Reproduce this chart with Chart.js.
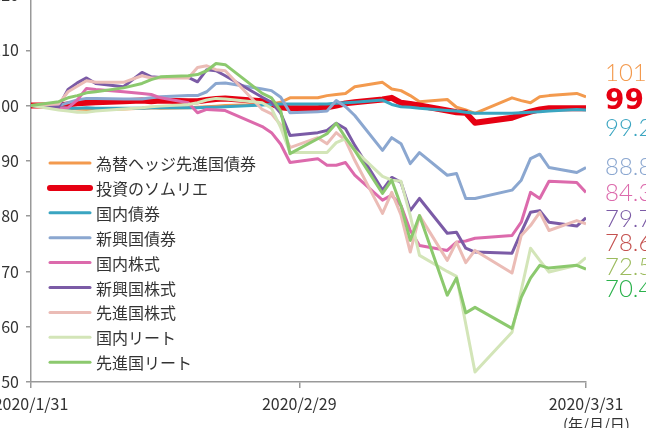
<!DOCTYPE html>
<html lang="ja">
<head>
<meta charset="utf-8">
<script src="https://cdn.jsdelivr.net/npm/chart.js@4"></script>
<style>
  html, body { margin: 0; padding: 0; background: #fff; overflow: hidden; }
  body { width: 646px; height: 428px; position: relative; }
  #wrap { position: absolute; left: -29px; top: -25px; }
</style>
</head>
<body>
<div id="wrap"><canvas id="navChart" width="695" height="467"></canvas></div>
<script>
// 日付 (2020/1/31 からの経過日数、営業日のみ)
const days = [0, 3, 4, 5, 6, 7, 10, 12, 13, 14, 17, 18, 19, 20, 21, 25, 26, 27, 28,
    31, 32, 33, 34, 35, 38, 39, 40, 41, 42, 45, 46, 47, 48, 52, 53, 54, 55, 56, 59, 60];

// x軸の目盛り
const tickDays = [0, 29, 60];
const tickLabels = ['2020/1/31', '2020/2/29', '2020/3/31'];

// 系列名
const seriesNames = ['為替ヘッジ先進国債券', '投資のソムリエ', '国内債券', '新興国債券',
    '国内株式', '新興国株式', '先進国株式', '国内リート', '先進国リート'];

// 基準価額 (1/31 = 100)
const hedgedBond = [100, 99.7, 99.5, 99.4, 99.3, 99.3, 99.4, 99.5, 99.6, 99.5, 99.6, 99.7, 99.8, 99.9, 100.0,
    100.2, 100.3, 100.6, 101.4, 101.4, 101.8, 102.0, 102.2, 103.4, 104.2, 103.0, 102.7, 101.8, 100.7,
    101.1, 99.7, 99.2, 98.6, 101.4, 100.9, 100.5, 101.6, 101.8, 102.2, 101.6];
const sommelier = [100, 100.0, 100.2, 100.4, 100.5, 100.6, 100.8, 100.9, 100.8, 100.9, 100.8, 100.8, 101.0, 101.2, 101.3,
    100.8, 100.3, 99.7, 99.5, 99.5, 99.7, 100.0, 100.4, 100.6, 101.1, 101.4, 100.5, 100.3, 100.0,
    99.1, 98.8, 98.7, 96.9, 97.8, 98.4, 98.9, 99.3, 99.5, 99.5, 99.5];
const domesticBond = [100, 99.6, 99.5, 99.5, 99.6, 99.5, 99.5, 99.5, 99.6, 99.6, 99.6, 99.6, 99.7, 99.7, 99.8,
    100.1, 100.2, 100.3, 100.3, 100.3, 100.3, 100.4, 100.5, 100.6, 101.0, 100.2, 99.8, 99.7, 99.5,
    99.1, 99.0, 98.8, 98.6, 98.6, 98.7, 98.8, 98.9, 99.0, 99.3, 99.2];
const emergingBond = [100, 100.0, 100.5, 101.0, 101.3, 101.3, 101.2, 101.2, 101.4, 101.6, 101.8, 101.8, 102.5, 104.0, 104.1,
    103.0, 102.7, 101.5, 98.7, 98.9, 99.0, 100.9, 99.8, 98.2, 91.9, 94.2, 93.1, 89.5, 91.5,
    87.4, 87.7, 83.2, 83.2, 84.7, 86.5, 90.4, 91.2, 88.8, 87.9, 88.8];
const domesticStock = [100, 99.5, 99.6, 101.0, 103.1, 102.9, 102.5, 102.2, 102.0, 101.4, 100.5, 98.7, 99.3, 99.2, 99.1,
    96.2, 95.1, 93.0, 89.7, 90.4, 89.2, 89.2, 89.7, 87.4, 82.9, 83.8, 81.9, 77.4, 74.7,
    73.8, 75.3, 75.5, 76.0, 76.5, 78.9, 84.3, 83.2, 86.3, 86.1, 84.3];
const emergingStock = [100, 99.8, 102.9, 104.1, 105.0, 104.0, 103.4, 106.0, 105.2, 105.1, 105.1, 104.3, 106.5, 106.3, 105.4,
    101.5, 100.6, 98.6, 94.6, 95.1, 95.5, 96.8, 95.8, 92.8, 84.7, 87.0, 86.1, 81.0, 83.2,
    76.9, 77.1, 74.2, 73.5, 73.3, 77.1, 80.7, 81.0, 78.9, 78.2, 79.7];
const developedStock = [100, 100.3, 102.5, 103.5, 104.5, 104.2, 104.2, 105.4, 105.0, 105.0, 105.0, 106.9, 107.2, 106.5, 106.3,
    99.3, 98.5, 96.5, 92.4, 94.2, 93.1, 95.1, 93.7, 90.1, 80.5, 84.3, 80.2, 73.5, 80.1,
    72.0, 75.3, 71.6, 73.8, 69.7, 76.5, 78.3, 80.7, 77.4, 79.2, 78.6];
const domesticReit = [100, 99.2, 99.0, 98.8, 98.8, 99.0, 99.4, 99.6, 99.8, 99.9, 100.2, 100.5, 101.0, 101.3, 101.2,
    100.5, 99.5, 96.0, 91.5, 91.5, 91.5, 93.3, 94.0, 91.9, 87.2, 86.5, 86.3, 80.1, 72.9,
    70.0, 69.1, 60.5, 51.8, 59.0, 66.6, 74.2, 72.0, 69.9, 71.1, 72.5];
const developedReit = [100, 100.7, 101.4, 101.8, 102.3, 102.5, 103.2, 104.0, 104.7, 105.2, 105.4, 105.6, 106.3, 107.6, 107.4,
    102.2, 101.4, 99.0, 91.3, 94.0, 94.9, 96.8, 94.2, 91.9, 84.1, 86.5, 81.9, 75.6, 80.1,
    65.7, 68.8, 62.5, 63.5, 59.7, 65.3, 68.8, 71.1, 70.6, 71.1, 70.4];

// 右端の数値ラベル
const endLabels = ['101.6', '99.5', '99.2', '88.8', '84.3', '79.7', '78.6', '72.5', '70.4'];
const endLabelColors = ['#f39a4e', '#e60012', '#3aa5c1', '#8ba7d0', '#dc6aac', '#7b5ba6', '#c4514f', '#9cbb5e', '#2bb24c'];

const allSeries = [hedgedBond, sommelier, domesticBond, emergingBond, domesticStock,
    emergingStock, developedStock, domesticReit, developedReit];
const lineColors = ['#f39a4e', '#e60012', '#3aa5c1', '#8ba7d0', '#dc6aac', '#7b5ba6', '#ebbcb6', '#d3e5b8', '#8cc96e'];

// キャンバスはページより左上にずらして置いている
const OX = 29;
const OY = 25;
const fontJP = '"Noto Sans CJK JP", "Noto Sans", sans-serif';

// 凡例・右端ラベルを描くプラグイン
const overlayPlugin = {
    id: 'overlay',
    afterDatasetsDraw(chart) {
        const ctx = chart.ctx;
        ctx.save();
        // 凡例
        ctx.font = '16px ' + fontJP;
        ctx.textBaseline = 'middle';
        ctx.lineCap = 'round';
        chart.data.datasets.forEach((ds, i) => {
            const y = 163 + i * 24.9 + OY;
            ctx.strokeStyle = ds.borderColor;
            ctx.lineWidth = ds.borderWidth;
            ctx.beginPath();
            ctx.moveTo(50 + OX, y);
            ctx.lineTo(90 + OX, y);
            ctx.stroke();
            ctx.fillStyle = '#333';
            ctx.fillText(ds.label, 96 + OX, y + 1);
        });
        // 右端の数値
        const labelY = [73, 102, 128, 167, 193, 219, 243, 267, 289];
        endLabels.forEach((text, i) => {
            ctx.fillStyle = endLabelColors[i];
            ctx.font = i === 1 ? 'bold 28px "DejaVu Sans", sans-serif' : '300 24px "Lato", "Noto Sans", sans-serif';
            ctx.fillText(text, 605 + OX, labelY[i] + OY);
        });
        // 単位
        ctx.fillStyle = '#333';
        ctx.font = '15px ' + fontJP;
        ctx.textBaseline = 'top';
        ctx.fillText('(年/月/日)', 563 + OX, 417 + OY);
        ctx.restore();
    }
};

function initChart() {
    const chartContext = document.getElementById('navChart');
    Chart.defaults.font.family = fontJP;

    const datasets = allSeries.map((values, i) => ({
        label: seriesNames[i],
        data: days.map((d, j) => ({ x: d, y: values[j] })),
        borderColor: lineColors[i],
        borderWidth: i === 1 ? 6 : 3,
        pointRadius: 0,
        tension: 0,
        borderJoinStyle: 'round',
        // 後の系列を上に描く
        order: allSeries.length - i
    }));

    new Chart(chartContext, {
        type: 'line',
        data: { datasets },
        options: {
            responsive: false,
            animation: false,
            layout: { padding: { left: 0, top: 20, right: 80, bottom: 20 } },
            plugins: {
                legend: { display: false },
                tooltip: { enabled: false }
            },
            scales: {
                x: {
                    type: 'linear',
                    min: 0,
                    max: 60,
                    afterBuildTicks: scale => {
                        scale.ticks = tickDays.map(v => ({ value: v }));
                    },
                    afterFit: scale => { scale.height = 40; },
                    ticks: {
                        autoSkip: false,
                        maxRotation: 0,
                        padding: 6,
                        color: '#333',
                        font: { size: 16 },
                        callback: value => tickLabels[tickDays.indexOf(value)]
                    },
                    grid: { drawOnChartArea: false, tickLength: 6, color: '#999', lineWidth: 1.5 },
                    border: { color: '#999', width: 1.5 }
                },
                y: {
                    min: 50,
                    max: 120,
                    afterFit: scale => { scale.width = 60; },
                    ticks: {
                        stepSize: 10,
                        padding: 7,
                        color: '#333',
                        font: { size: 16 }
                    },
                    grid: { drawOnChartArea: false, tickLength: 5, color: '#999', lineWidth: 1.5 },
                    border: { color: '#999', width: 1.5 }
                }
            }
        },
        plugins: [overlayPlugin]
    });
}

initChart();
</script>
</body>
</html>
